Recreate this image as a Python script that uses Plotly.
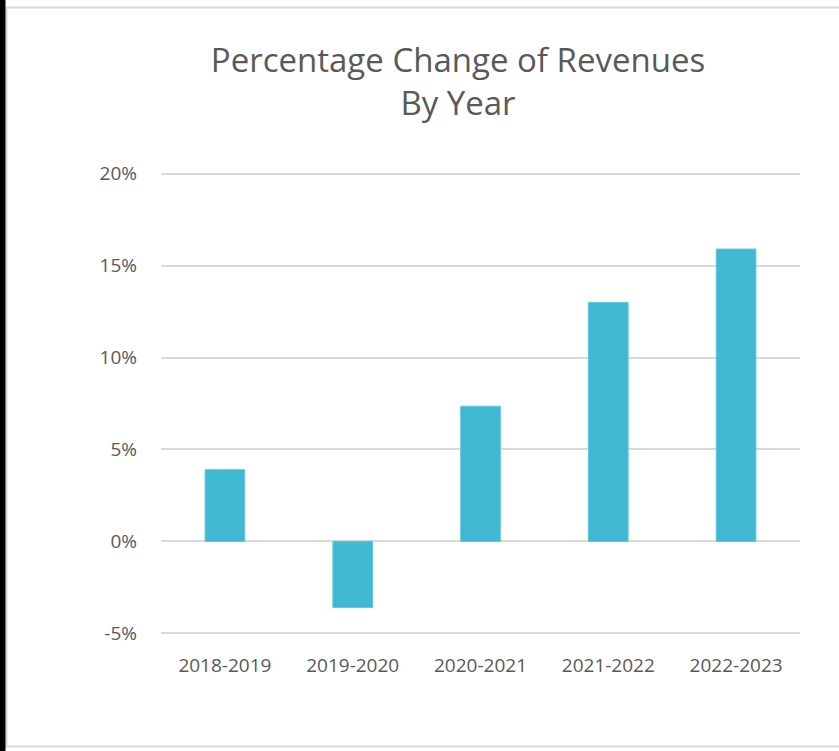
import plotly.graph_objects as go

categories = ["2018-2019", "2019-2020", "2020-2021", "2021-2022", "2022-2023"]
pct_change = [3.9, -3.6, 7.35, 13.0, 15.9]
y_ticks = [-5, 0, 5, 10, 15, 20]
y_tick_labels = ["-5%", "0%", "5%", "10%", "15%", "20%"]

W, H = 839, 751
pad = 0.2
unit_px = 91.8 / 5
L, R = 161, 39
T = 174 - pad * unit_px
ph = (25 + 2 * pad) * unit_px
B = H - T - ph
pw = W - L - R

def px_x(x):
    return (x - L) / pw

def px_y(y):
    return 1 - (y - T) / ph

font_family = "Open Sans, Lato, sans-serif"
text_color = "#595959"

fig = go.Figure(go.Bar(
    x=categories,
    y=pct_change,
    marker=dict(color="#41b8d2", line=dict(color="#5ec6dc", width=1)),
    width=0.31,
    hoverinfo="x+y",
))

fig.update_layout(
    width=W, height=H,
    margin=dict(l=L, r=R, t=T, b=B, pad=0),
    paper_bgcolor="white",
    plot_bgcolor="white",
    showlegend=False,
    title=dict(
        text="Percentage Change of Revenues<br>By Year",
        font=dict(family=font_family, size=33, color=text_color),
        x=px_x(458), xref="paper", xanchor="center",
        y=1 - 72 / H, yref="container", yanchor="top",
    ),
    xaxis=dict(
        showgrid=False, zeroline=False, showline=False, ticks="",
        tickfont=dict(family=font_family, size=19, color=text_color),
        ticklabelstandoff=15,
    ),
    yaxis=dict(
        range=[-5 - pad, 20 + pad],
        tickvals=y_ticks, ticktext=y_tick_labels,
        showgrid=True, gridcolor="#d9d9d9", gridwidth=1.5,
        zeroline=False, showline=False, ticks="",
        tickfont=dict(family=font_family, size=19, color=text_color),
        ticklabelstandoff=23,
    ),
    shapes=[
        dict(type="rect", xref="paper", yref="paper",
             x0=px_x(6.5), x1=px_x(860), y0=px_y(746), y1=px_y(8),
             line=dict(color="#d9d9d9", width=2), fillcolor="rgba(0,0,0,0)", layer="below"),
        dict(type="rect", xref="paper", yref="paper",
             x0=px_x(-5), x1=px_x(5.5), y0=px_y(760), y1=px_y(-10),
             line=dict(width=0), fillcolor="black", layer="above"),
    ],
)

fig.write_html("out.html", config={"displayModeBar": False},
               post_script="document.body.style.margin='0';")
